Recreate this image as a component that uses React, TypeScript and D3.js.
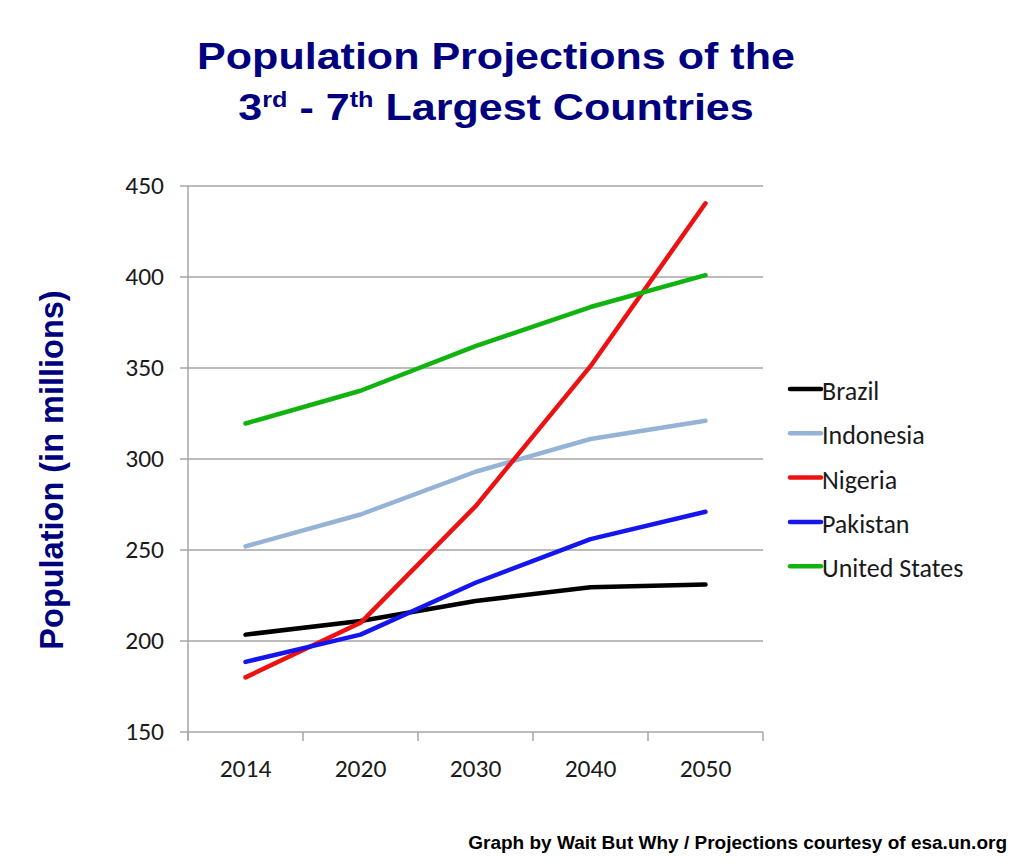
import React, { useEffect, useRef } from "react";
import * as d3 from "d3";

const years = ["2014", "2020", "2030", "2040", "2050"];
const brazil = [203.5, 211, 222, 229.5, 231];
const indonesia = [252, 269.5, 293, 311, 321];
const nigeria = [180, 210, 274, 351, 440.5];
const pakistan = [188.5, 203.5, 232, 256, 271];
const unitedStates = [319.5, 337.5, 362, 383.5, 401];
const yTicks = [150, 200, 250, 300, 350, 400, 450];

const seriesNames = ["Brazil", "Indonesia", "Nigeria", "Pakistan", "United States"];
const seriesValues = [brazil, indonesia, nigeria, pakistan, unitedStates];
const seriesColors = ["#000000", "#95b3d7", "#ee1111", "#1515ee", "#11b311"];

export default function App() {
  const ref = useRef<SVGSVGElement | null>(null);

  useEffect(() => {
    const svg = d3.select(ref.current);
    svg.selectAll("*").remove();

    const left = 188, right = 763, top = 186, bottom = 732;
    const x = d3.scaleBand<string>().domain(years).range([left, right]);
    const y = d3.scaleLinear().domain([150, 450]).range([bottom, top]);

    svg.append("rect").attr("width", 1024).attr("height", 864).attr("fill", "#fff");

    // title (horizontally stretched like the reference)
    const tg = svg.append("g").attr("transform", "translate(496,0) scale(1.148,1)");
    const title = tg.append("text")
      .attr("x", 0).attr("text-anchor", "middle")
      .attr("font-family", "Liberation Sans, Arial, sans-serif")
      .attr("font-weight", "bold").attr("font-size", 37.5).attr("fill", "#00007f");
    title.append("tspan").attr("x", 0).attr("y", 69).text("Population Projections of the");
    const l2 = title.append("tspan").attr("x", 0).attr("y", 120);
    l2.append("tspan").text("3");
    l2.append("tspan").attr("dy", -13).attr("font-size", 22).text("rd");
    l2.append("tspan").attr("dy", 13).text(" - 7");
    l2.append("tspan").attr("dy", -13).attr("font-size", 22).text("th");
    l2.append("tspan").attr("dy", 13).text(" Largest Countries");

    // gridlines
    const grid = svg.append("g");
    grid.selectAll("line").data(yTicks).join("line")
      .attr("x1", left - 8).attr("x2", right)
      .attr("y1", d => y(d)).attr("y2", d => y(d))
      .attr("stroke", "#a6a6a6").attr("stroke-width", 1.5);

    // y axis line
    svg.append("line").attr("x1", left).attr("x2", left).attr("y1", top).attr("y2", bottom + 8)
      .attr("stroke", "#a6a6a6").attr("stroke-width", 1.5);

    // x axis ticks
    const xTickPos = years.map(d => x(d)!).concat([right]);
    svg.append("g").selectAll("line").data(xTickPos).join("line")
      .attr("x1", d => d).attr("x2", d => d).attr("y1", bottom).attr("y2", bottom + 9)
      .attr("stroke", "#a6a6a6").attr("stroke-width", 1.5);

    const tickFont = "Carlito, 'Open Sans', 'Liberation Sans', sans-serif";
    svg.append("g").selectAll("text").data(yTicks).join("text")
      .attr("x", 164).attr("y", d => y(d)).attr("dy", "0.33em")
      .attr("text-anchor", "end").attr("font-family", tickFont).attr("font-size", 25.5)
      .attr("fill", "#1a1a1a").text(d => String(d));

    svg.append("g").selectAll("text").data(years).join("text")
      .attr("x", d => x(d)! + x.bandwidth() / 2).attr("y", 777)
      .attr("text-anchor", "middle").attr("font-family", tickFont).attr("font-size", 25.5)
      .attr("fill", "#1a1a1a").text(d => d);

    // lines
    const line = d3.line<number>()
      .x((_, i) => x(years[i])! + x.bandwidth() / 2)
      .y(d => y(d));
    seriesValues.forEach((vals, i) => {
      svg.append("path").attr("d", line(vals)!).attr("fill", "none")
        .attr("stroke", seriesColors[i]).attr("stroke-width", 4.5)
        .attr("stroke-linecap", "round").attr("stroke-linejoin", "round");
    });

    // legend
    seriesNames.forEach((name, i) => {
      const base = 400 + i * 44.3;
      svg.append("line").attr("x1", 790).attr("x2", 821).attr("y1", base - 11).attr("y2", base - 11)
        .attr("stroke", seriesColors[i]).attr("stroke-width", 4.5).attr("stroke-linecap", "round");
      svg.append("text").attr("x", 822).attr("y", base)
        .attr("font-family", tickFont).attr("font-size", 26).attr("fill", "#1a1a1a").text(name);
    });

    // y label
    svg.append("text")
      .attr("transform", "translate(63,470) rotate(-90)")
      .attr("text-anchor", "middle")
      .attr("font-family", "Liberation Sans, Arial, sans-serif")
      .attr("font-weight", "bold").attr("font-size", 32.5).attr("fill", "#00007f")
      .text("Population (in millions)");

    // footer
    svg.append("text").attr("x", 1007).attr("y", 849).attr("text-anchor", "end")
      .attr("font-family", "Liberation Sans, Arial, sans-serif")
      .attr("font-weight", "bold").attr("font-size", 19).attr("fill", "#000")
      .text("Graph by Wait But Why / Projections courtesy of esa.un.org");
  }, []);

  return (
    <svg ref={ref} width={1024} height={864}
      style={{ position: "absolute", left: 0, top: 0, display: "block" }} />
  );
}
